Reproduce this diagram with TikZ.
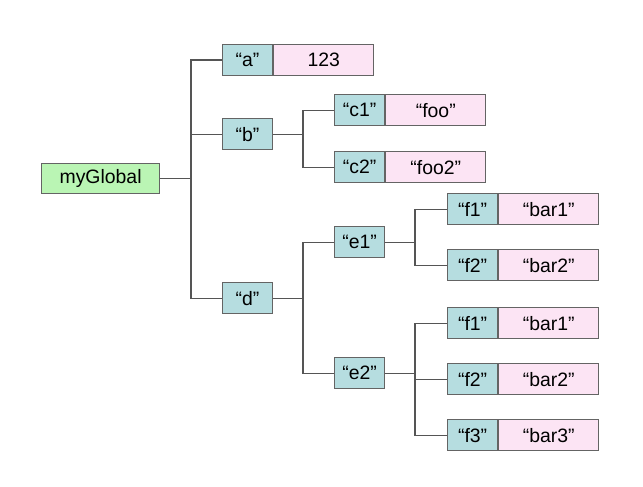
\documentclass[tikz,border=0pt]{standalone}
\usepackage{fontspec}
\setmainfont{Liberation Sans}
\definecolor{keyfill}{RGB}{182,221,224}
\definecolor{valfill}{RGB}{252,228,244}
\definecolor{rootfill}{RGB}{186,245,180}
\definecolor{boxline}{RGB}{100,100,100}
\definecolor{linkc}{RGB}{85,85,85}
\begin{document}
\begin{tikzpicture}[x=1pt,y=-1pt,
  box/.style={draw=boxline, line width=1.2pt, inner sep=0pt, anchor=north west,
    font=\fontsize{19.4}{22}\selectfont},
  keybox/.style={box, fill=keyfill, minimum width=50pt, minimum height=31pt},
  valbox/.style={box, fill=valfill, minimum width=100pt, minimum height=31pt},
  rootbox/.style={box, fill=rootfill, minimum width=118pt, minimum height=30pt},
  link/.style={draw=linkc, line width=1.2pt}]
\useasboundingbox (0,0) rectangle (643,487);
% fork columns
\coordinate (f0) at (191,0);
\coordinate (f1) at (303,0);
\coordinate (f2) at (415,0);
% nodes
\node[rootbox] (mg) at (41,163) {myGlobal};
\node[keybox] (a) at (222,44) {“a”};
\node[valbox] (av) at (a.north east) {123};
\node[keybox] (b) at (222,118) {“b”};
\node[keybox] (c1) at (334,94) {“c1”};
\node[valbox] (c1v) at (c1.north east) {“foo”};
\node[keybox] (c2) at (334,151) {“c2”};
\node[valbox] (c2v) at (c2.north east) {“foo2”};
\node[keybox] (d) at (222,282) {“d”};
\node[keybox] (e1) at (334,226) {“e1”};
\node[keybox] (e2) at (334,357) {“e2”};
\node[keybox] (g1) at (447,193) {“f1”};
\node[valbox] (g1v) at (g1.north east) {“bar1”};
\node[keybox] (g2) at (447,249) {“f2”};
\node[valbox] (g2v) at (g2.north east) {“bar2”};
\node[keybox] (h1) at (447,307) {“f1”};
\node[valbox] (h1v) at (h1.north east) {“bar1”};
\node[keybox] (h2) at (447,363) {“f2”};
\node[valbox] (h2v) at (h2.north east) {“bar2”};
\node[keybox] (h3) at (447,419) {“f3”};
\node[valbox] (h3v) at (h3.north east) {“bar3”};
% connectors
\foreach \c in {a,b,d}
  \draw[link] (mg.east) -- (mg.east -| f0) |- (\c.west);
\foreach \c in {c1,c2}
  \draw[link] (b.east) -- (b.east -| f1) |- (\c.west);
\foreach \c in {e1,e2}
  \draw[link] (d.east) -- (d.east -| f1) |- (\c.west);
\foreach \c in {g1,g2}
  \draw[link] (e1.east) -- (e1.east -| f2) |- (\c.west);
\foreach \c in {h1,h2,h3}
  \draw[link] (e2.east) -- (e2.east -| f2) |- (\c.west);
\end{tikzpicture}
\end{document}
